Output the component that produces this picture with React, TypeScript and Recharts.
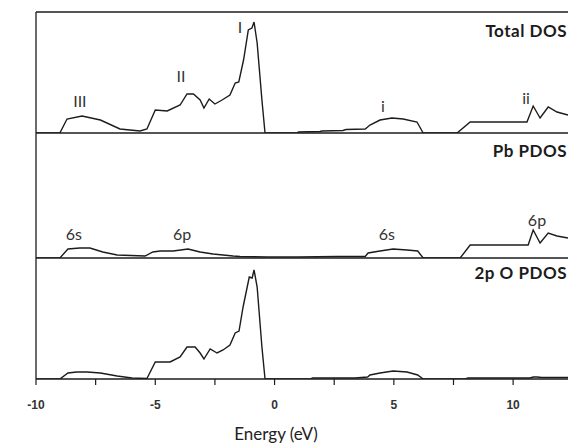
import React from "react";
import { LineChart, Line, XAxis, YAxis, ReferenceLine, ReferenceDot, Label } from "recharts";

// stacked DOS panels: Total / Pb PDOS / 2p O PDOS, shared energy axis
const W = 568;
const H = 445;
const X_DOMAIN: [number, number] = [-10, 12.3];
const INK = "#1c1c1c";

const totalEnergy = [-10, -9.0, -8.7, -8.07, -7.3, -6.48, -5.64, -5.35, -5.0, -4.5, -3.96, -3.67, -3.4, -3.12, -2.96, -2.74, -2.5, -2.2, -1.87, -1.65, -1.5, -1.3, -1.1, -0.95, -0.86, -0.73, -0.53, -0.4, 0.95, 1.0, 1.9, 2.0, 2.87, 3.0, 3.8, 4.0, 4.42, 4.92, 5.39, 5.97, 6.23, 7.65, 8.2, 10.58, 10.84, 11.13, 11.47, 11.84, 12.3];
const totalDos = [0, 0, 14, 17, 13, 4, 2, 4, 23, 22, 28, 39, 39, 33, 25, 34, 29, 33, 38, 50, 51, 73, 103, 105, 111, 90, 33, 0, 0, 1, 1.5, 2, 2.5, 3.5, 4, 8, 13, 15, 14, 11, 0, 0, 11, 11, 27, 15, 26, 21, 18];

const pbEnergy = [-10, -9.0, -8.66, -8.16, -7.74, -7.2, -6.6, -5.43, -5.1, -4.8, -4.25, -3.63, -3.12, -2.58, -1.74, -1.45, -0.31, 1.0, 2.6, 3.8, 3.92, 4.42, 4.97, 5.55, 6.0, 6.23, 7.78, 8.2, 10.63, 10.84, 11.13, 11.47, 11.84, 12.3];
const pbDos = [0, 0, 9, 10, 10, 6, 3, 2, 6, 7, 7, 9, 6, 4, 2, 1.5, 1, 1, 1.5, 1.5, 5, 7, 9, 8, 7, 0, 0, 13, 13, 28, 15, 25, 22, 20];

const oEnergy = [-10, -9.0, -8.66, -8.3, -7.86, -7.3, -6.6, -5.98, -5.35, -5.0, -4.38, -3.96, -3.67, -3.33, -3.12, -2.96, -2.7, -2.41, -2.16, -1.87, -1.65, -1.49, -1.32, -1.06, -0.94, -0.86, -0.73, -0.53, -0.4, 1.5, 1.6, 3.37, 3.9, 4.0, 4.42, 4.97, 5.55, 6.0, 6.23, 8.0, 8.1, 10.7, 10.85, 11.0, 11.2, 12.3];
const oDos = [0, 0, 6, 7, 7, 6, 3, 1, 0.5, 17, 17, 22, 32, 32, 26, 20, 30, 26, 29, 34, 46, 48, 72, 102, 101, 109, 92, 32, 0, 0, 1, 1, 2, 4, 6, 8, 7, 4, 0, 0, 1, 1, 2, 2, 1.5, 1.5];

const xTicks = [-10, -7.5, -5, -2.5, 0, 2.5, 5, 7.5, 10];

type Note = { text: string; e: number; v: number };

const totalNotes: Note[] = [
  { text: "III", e: -8.16, v: 26 },
  { text: "II", e: -3.92, v: 51 },
  { text: "I", e: -1.45, v: 100 },
  { text: "i", e: 4.54, v: 21 },
  { text: "ii", e: 10.54, v: 29 },
];
const pbNotes: Note[] = [
  { text: "6s", e: -8.41, v: 18 },
  { text: "6p", e: -3.88, v: 18 },
  { text: "6s", e: 4.71, v: 18 },
  { text: "6p", e: 11.0, v: 32 },
];

const titleFont = { fontFamily: "Lato, 'Noto Sans', sans-serif", fontWeight: 700, fontSize: 17 };

function noteShape(text: string) {
  return (p: any) => (
    <text x={p.cx} y={p.cy} textAnchor="middle" fill="#333"
      style={{ fontFamily: "Lato, 'Noto Sans', sans-serif", fontSize: 16 }}>
      {text}
    </text>
  );
}

function titleShape(text: string) {
  return (p: any) => (
    <text x={p.cx - 1} y={p.cy} textAnchor="end" fill={INK} style={{ ...titleFont, letterSpacing: 0.5 }}>
      {text}
    </text>
  );
}

function Panel({
  energy, dos, top, bottom, yMax, title, titleV, notes, showAxis, topBorder,
}: {
  energy: number[]; dos: number[]; top: number; bottom: number; yMax: number;
  title: string; titleV: number; notes: Note[]; showAxis?: boolean; topBorder?: boolean;
}) {
  const data = energy.map((e, i) => ({ e, dos: dos[i] }));
  const axisH = 30;
  return (
    <div style={{ position: "absolute", left: 0, top: 0 }}>
      <LineChart width={W} height={H} data={data}
        margin={{ top, right: 0, left: 36, bottom: showAxis ? H - bottom - axisH : H - bottom }}>
        <XAxis type="number" dataKey="e" domain={X_DOMAIN} allowDataOverflow hide={!showAxis}
          ticks={xTicks} interval={0} height={axisH} tickSize={6} tickMargin={15}
          tickFormatter={(v: number) => (v % 5 === 0 ? String(v) : "")}
          axisLine={{ stroke: INK, strokeWidth: 1.3 }} tickLine={{ stroke: INK, strokeWidth: 1.2 }}
          tick={{ fill: "#333", fontSize: 12, fontWeight: 700, fontFamily: "'Liberation Sans', Arial, sans-serif" }}>
          {showAxis && (
            <Label content={() => (
              <text x={276} y={440} textAnchor="middle" fill="#222"
                style={{ fontFamily: "Lato, 'Noto Sans', sans-serif", fontSize: 17 }}>
                Energy (eV)
              </text>
            )} />
          )}
        </XAxis>
        {showAxis ? (
          <YAxis domain={[0, yMax]} allowDataOverflow width={0} tick={false} axisLine={false} tickLine={false}>
            <Label content={() => (
              <text x={18} y={215} transform="rotate(-90 18 215)" textAnchor="middle" dy="0.35em" fill="#333"
                style={{ fontFamily: "'Liberation Sans', Arial, sans-serif", fontSize: 15 }}>
                DOS (arb. units)
              </text>
            )} />
          </YAxis>
        ) : (
          <YAxis hide domain={[0, yMax]} allowDataOverflow />
        )}
        {!showAxis && <ReferenceLine y={0} stroke={INK} strokeWidth={1.3} />}
        {topBorder && <ReferenceLine y={yMax} stroke={INK} strokeWidth={1.3} />}
        <ReferenceLine x={-10} stroke={INK} strokeWidth={1.3} />
        <Line type="linear" dataKey="dos" stroke={INK} strokeWidth={1.4} dot={false} isAnimationActive={false} />
        {notes.map((n, i) => (
          <ReferenceDot key={i} x={n.e} y={n.v} r={0} shape={noteShape(n.text)} />
        ))}
        <ReferenceDot x={X_DOMAIN[1]} y={titleV} r={0} shape={titleShape(title)} />
      </LineChart>
    </div>
  );
}

export default function App() {
  return (
    <div style={{ position: "fixed", left: 0, top: 0, width: W, height: H, overflow: "hidden", background: "#fff" }}>
      <Panel energy={totalEnergy} dos={totalDos} top={12} bottom={133} yMax={121}
        title="Total DOS" titleV={96} notes={totalNotes} topBorder />
      <Panel energy={pbEnergy} dos={pbDos} top={133} bottom={258} yMax={125}
        title="Pb PDOS" titleV={101} notes={pbNotes} />
      <Panel energy={oEnergy} dos={oDos} top={258} bottom={379} yMax={121}
        title="2p O PDOS" titleV={100} notes={[]} showAxis />
    </div>
  );
}
